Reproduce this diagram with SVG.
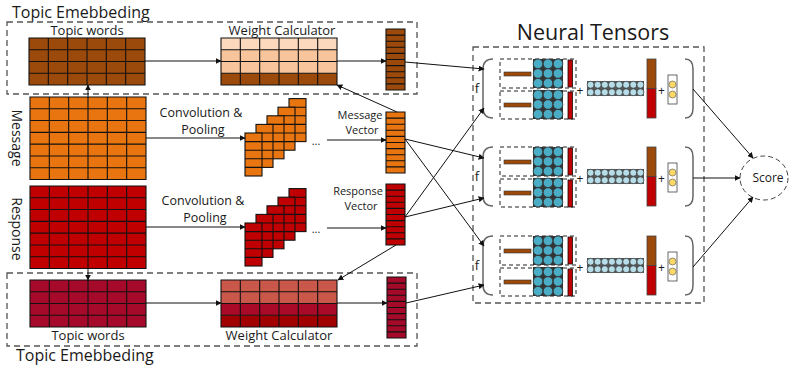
<svg xmlns="http://www.w3.org/2000/svg" xmlns:xlink="http://www.w3.org/1999/xlink" width="792" height="371" viewBox="0 0 792 371">
<style>
.t{font-family:"Open Sans","DejaVu Sans",sans-serif;fill:#1a1a1a}
.grid{fill:none;stroke:#111;stroke-width:1.1}
.dash{fill:none;stroke:#555;stroke-width:1.3;stroke-dasharray:6 4}
.idash{fill:none;stroke:#222;stroke-width:1;stroke-dasharray:4 3}
.conn line,.conn path{stroke:#111;stroke-width:1;fill:none;marker-end:url(#ah)}
.brace{fill:none;stroke:#666;stroke-width:1.5}
.bc{fill:#4BACC6;stroke:#333;stroke-width:0.8}
.lc{fill:#B7DEE8;stroke:#333;stroke-width:0.7}
.yc{fill:#FFD966;stroke:#666;stroke-width:0.7}
</style>
<defs>
<marker id="ah" viewBox="0 0 10 10" refX="9" refY="5" markerWidth="6" markerHeight="6" orient="auto" markerUnits="userSpaceOnUse"><path d="M0,0L10,5L0,10Z" fill="#111"/></marker>
<path id="g64" class="grid" d="M0,0H116V47H0Z M19.33,0V47 M38.67,0V47 M58,0V47 M77.33,0V47 M96.67,0V47 M0,11.75H116 M0,23.5H116 M0,35.25H116"/>
<path id="g67" class="grid" d="M0,0H116V82.5H0Z M19.33,0V82.5 M38.67,0V82.5 M58,0V82.5 M77.33,0V82.5 M96.67,0V82.5 M0,11.79H116 M0,23.57H116 M0,35.36H116 M0,47.14H116 M0,58.93H116 M0,70.71H116"/>
<path id="vec" class="grid" d="M0,0H19V61H0Z M0,6.1H19 M0,12.2H19 M0,18.3H19 M0,24.4H19 M0,30.5H19 M0,36.6H19 M0,42.7H19 M0,48.8H19 M0,54.9H19"/>
<g id="layer"><rect width="17" height="43" stroke="#111" stroke-width="1.1"/><path class="grid" d="M0,8.6H17 M0,17.2H17 M0,25.8H17 M0,34.4H17"/></g>
<g id="bgrid"><rect width="30" height="29" fill="#333"/>
<circle class="bc" cx="5" cy="4.8" r="4.8"/><circle class="bc" cx="15" cy="4.8" r="4.8"/><circle class="bc" cx="25" cy="4.8" r="4.8"/>
<circle class="bc" cx="5" cy="14.5" r="4.8"/><circle class="bc" cx="15" cy="14.5" r="4.8"/><circle class="bc" cx="25" cy="14.5" r="4.8"/>
<circle class="bc" cx="5" cy="24.2" r="4.8"/><circle class="bc" cx="15" cy="24.2" r="4.8"/><circle class="bc" cx="25" cy="24.2" r="4.8"/></g>
<g id="block">
<path class="brace" d="M493,59 Q483,59 483,69 L483,108 Q483,118 493,118"/>
<rect class="idash" x="500" y="59" width="76" height="29"/>
<rect class="idash" x="500" y="91" width="76" height="28"/>
<rect x="504" y="72" width="27" height="4" fill="#9C4A0B" stroke="#333" stroke-width="0.6"/>
<rect x="504" y="103" width="27" height="4" fill="#9C4A0B" stroke="#333" stroke-width="0.6"/>
<use href="#bgrid" x="533" y="59"/>
<use href="#bgrid" x="533" y="90"/>
<rect x="568" y="60" width="4.5" height="27" fill="#C00000" stroke="#111" stroke-width="0.8"/>
<rect x="568" y="92" width="4.5" height="27" fill="#C00000" stroke="#111" stroke-width="0.8"/>
<rect x="587" y="81" width="57" height="15" fill="#555"/>
<g class="lc">
<circle cx="590.6" cy="84.75" r="3.5"/><circle cx="597.7" cy="84.75" r="3.5"/><circle cx="604.8" cy="84.75" r="3.5"/><circle cx="611.9" cy="84.75" r="3.5"/><circle cx="619.1" cy="84.75" r="3.5"/><circle cx="626.2" cy="84.75" r="3.5"/><circle cx="633.3" cy="84.75" r="3.5"/><circle cx="640.4" cy="84.75" r="3.5"/>
<circle cx="590.6" cy="92.25" r="3.5"/><circle cx="597.7" cy="92.25" r="3.5"/><circle cx="604.8" cy="92.25" r="3.5"/><circle cx="611.9" cy="92.25" r="3.5"/><circle cx="619.1" cy="92.25" r="3.5"/><circle cx="626.2" cy="92.25" r="3.5"/><circle cx="633.3" cy="92.25" r="3.5"/><circle cx="640.4" cy="92.25" r="3.5"/>
</g>
<rect x="647" y="59" width="9" height="29.5" fill="#9C4A0B" stroke="#444" stroke-width="0.8"/>
<rect x="647" y="88.5" width="9" height="29.5" fill="#C00000" stroke="#444" stroke-width="0.8"/>
<rect x="668" y="75" width="9" height="29" fill="#fff" stroke="#444" stroke-width="0.8"/>
<circle class="yc" cx="672.5" cy="84.5" r="3.5"/>
<circle class="yc" cx="672.5" cy="94.5" r="3.5"/>
<path class="brace" d="M685,59 Q693,59 693,69 L693,108 Q693,118 685,118"/>
</g>
</defs>
<rect width="792" height="371" fill="#fff"/>

<!-- Top topic embedding -->
<g id="topEmbedding">
<text class="t" x="12" y="17.5" font-size="16">Topic Emebbeding</text>
<rect class="dash" x="7" y="22" width="410" height="72"/>
</g>
<g id="topTopicWords">
<text class="t" x="87" y="35" font-size="13" text-anchor="middle">Topic words</text>
<rect x="29" y="38" width="116" height="47" fill="#9C4A0B"/>
<use href="#g64" x="29" y="38"/>
</g>
<g id="topWeightCalc">
<text class="t" x="282" y="35" font-size="13" text-anchor="middle">Weight Calculator</text>
<rect x="221" y="38" width="116" height="11.75" fill="#FCD8BC"/>
<rect x="221" y="49.75" width="116" height="23.5" fill="#F8C49C"/>
<rect x="221" y="73.25" width="116" height="11.75" fill="#9C4A0B"/>
<use href="#g64" x="221" y="38"/>
</g>
<g id="topVector">
<rect x="386" y="29" width="19" height="61" fill="#9C4A0B"/>
<use href="#vec" x="386" y="29"/>
</g>

<!-- Message -->
<g id="message">
<text class="t" font-size="14" text-anchor="middle" transform="translate(12,138) rotate(90)">Message</text>
<rect x="30" y="97" width="116" height="82.5" fill="#E8750F"/>
<use href="#g67" x="30" y="97"/>
</g>
<g id="messageConv">
<text class="t" x="201" y="117" font-size="12.5" text-anchor="middle">Convolution &amp;</text>
<text class="t" x="203" y="134" font-size="12.5" text-anchor="middle">Pooling</text>
</g>
<g id="messageMaps" fill="#E8750F">
<use href="#layer" x="289" y="98.6"/>
<use href="#layer" x="278" y="107.2"/>
<use href="#layer" x="267" y="115.8"/>
<use href="#layer" x="256" y="124.4"/>
<use href="#layer" x="245" y="133"/>
<text class="t" x="316" y="145" font-size="11" text-anchor="middle">...</text>
</g>
<g id="messageVector">
<text class="t" x="360" y="119" font-size="11" text-anchor="middle">Message</text>
<text class="t" x="362" y="134" font-size="11" text-anchor="middle">Vector</text>
<rect x="386" y="112" width="19" height="61" fill="#E8750F"/>
<use href="#vec" x="386" y="112"/>
</g>

<!-- Response -->
<g id="response">
<text class="t" font-size="14" text-anchor="middle" transform="translate(12,229) rotate(90)">Response</text>
<rect x="30" y="186" width="116" height="82.5" fill="#C00000"/>
<use href="#g67" x="30" y="186"/>
</g>
<g id="responseConv">
<text class="t" x="203" y="205" font-size="12.5" text-anchor="middle">Convolution &amp;</text>
<text class="t" x="205" y="222" font-size="12.5" text-anchor="middle">Pooling</text>
</g>
<g id="responseMaps" fill="#C00000">
<use href="#layer" x="289" y="188.6"/>
<use href="#layer" x="278" y="197.2"/>
<use href="#layer" x="267" y="205.8"/>
<use href="#layer" x="256" y="214.4"/>
<use href="#layer" x="245" y="223"/>
<text class="t" x="316" y="233" font-size="11" text-anchor="middle">...</text>
</g>
<g id="responseVector">
<text class="t" x="358" y="195" font-size="11" text-anchor="middle">Response</text>
<text class="t" x="361" y="210" font-size="11" text-anchor="middle">Vector</text>
<rect x="386" y="184" width="19" height="61" fill="#C00000"/>
<use href="#vec" x="386" y="184"/>
</g>

<!-- Bottom topic embedding -->
<g id="bottomEmbedding">
<rect class="dash" x="7" y="273" width="410" height="73"/>
<text class="t" x="16" y="361" font-size="16">Topic Emebbeding</text>
</g>
<g id="bottomTopicWords">
<rect x="30" y="280" width="116" height="47" fill="#A50A2A"/>
<use href="#g64" x="30" y="280"/>
<text class="t" x="88" y="339.5" font-size="13" text-anchor="middle">Topic words</text>
</g>
<g id="bottomWeightCalc">
<rect x="221" y="280" width="116" height="23.5" fill="#C9584B"/>
<rect x="221" y="303.5" width="116" height="11.75" fill="#A80A28"/>
<rect x="221" y="315.25" width="116" height="11.75" fill="#A00000"/>
<use href="#g64" x="221" y="280"/>
<text class="t" x="279" y="339.5" font-size="13" text-anchor="middle">Weight Calculator</text>
</g>
<g id="bottomVector">
<rect x="387" y="277" width="19" height="61" fill="#A50A2A"/>
<use href="#vec" x="387" y="277"/>
</g>

<!-- Neural tensors -->
<g id="neuralTensors">
<text class="t" x="593" y="40" font-size="21.5" text-anchor="middle">Neural Tensors</text>
<rect class="dash" x="473" y="47" width="231" height="256"/>
</g>
<g id="tensor1"><use href="#block"/>
<text class="t" x="477" y="93" font-size="13" text-anchor="middle">f</text>
<text class="t" x="580" y="95" font-size="12" text-anchor="middle">+</text>
<text class="t" x="661.5" y="95" font-size="12" text-anchor="middle">+</text>
</g>
<g id="tensor2"><use href="#block" y="88"/>
<text class="t" x="477" y="181" font-size="13" text-anchor="middle">f</text>
<text class="t" x="580" y="183" font-size="12" text-anchor="middle">+</text>
<text class="t" x="661.5" y="183" font-size="12" text-anchor="middle">+</text>
</g>
<g id="tensor3"><use href="#block" y="177"/>
<text class="t" x="477" y="270" font-size="13" text-anchor="middle">f</text>
<text class="t" x="580" y="272" font-size="12" text-anchor="middle">+</text>
<text class="t" x="661.5" y="272" font-size="12" text-anchor="middle">+</text>
</g>
<g id="score">
<ellipse cx="764" cy="178" rx="24" ry="22" fill="none" stroke="#444" stroke-width="1" stroke-dasharray="5 3"/>
<text class="t" x="768" y="182" font-size="12" text-anchor="middle">Score</text>
</g>

<g id="connectors" class="conn">
<line x1="145" y1="61" x2="221" y2="61"/>
<line x1="337" y1="61" x2="386" y2="61"/>
<line x1="88" y1="97" x2="88" y2="85"/>
<line x1="88" y1="268" x2="88" y2="280"/>
<line x1="146" y1="303" x2="221" y2="303"/>
<line x1="337" y1="303" x2="387" y2="303"/>
<line x1="146" y1="138" x2="245" y2="138"/>
<line x1="146" y1="227" x2="245" y2="227"/>
<line x1="327" y1="140" x2="386" y2="140"/>
<line x1="327" y1="228" x2="386" y2="228"/>
<line x1="397" y1="112" x2="337" y2="85"/>
<line x1="396" y1="245" x2="338" y2="280"/>
<line x1="405" y1="62" x2="484" y2="69"/>
<line x1="405" y1="139" x2="484" y2="158"/>
<line x1="405" y1="139" x2="484" y2="246"/>
<line x1="405" y1="217" x2="484" y2="108"/>
<line x1="405" y1="217" x2="484" y2="198"/>
<line x1="406" y1="303" x2="484" y2="285"/>
<line x1="693" y1="89" x2="753" y2="158"/>
<line x1="693" y1="178" x2="740" y2="178"/>
<line x1="693" y1="267" x2="753" y2="197"/>
</g>
</svg>
